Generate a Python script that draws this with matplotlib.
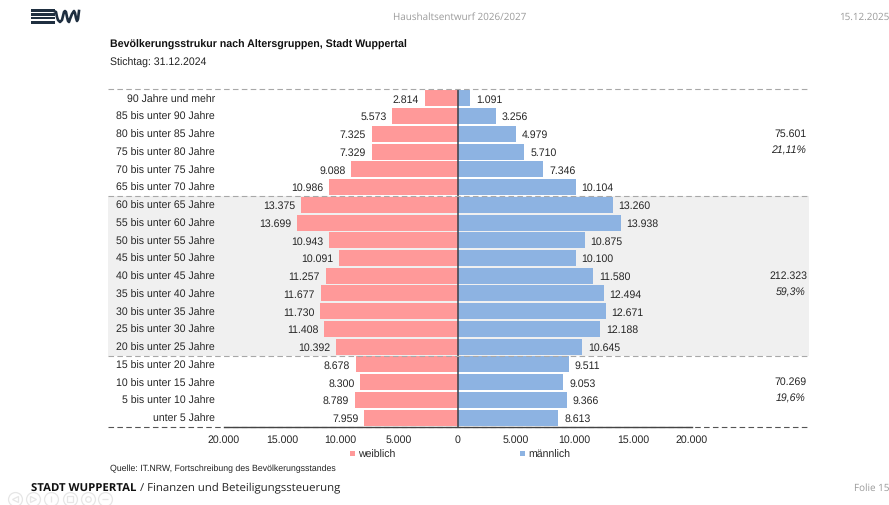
import matplotlib.pyplot as plt
import numpy as np
from matplotlib.patches import Rectangle

plt.rcParams['font.family'] = ['Liberation Sans', 'DejaVu Sans']
plt.rcParams['text.hinting'] = 'no_hinting'

W, H = 889, 505

# chart data, top row first
groups = ['90 Jahre und mehr', '85 bis unter 90 Jahre', '80 bis unter 85 Jahre', '75 bis unter 80 Jahre',
          '70 bis unter 75 Jahre', '65 bis unter 70 Jahre', '60 bis unter 65 Jahre', '55 bis unter 60 Jahre',
          '50 bis unter 55 Jahre', '45 bis unter 50 Jahre', '40 bis unter 45 Jahre', '35 bis unter 40 Jahre',
          '30 bis unter 35 Jahre', '25 bis unter 30 Jahre', '20 bis unter 25 Jahre', '15 bis unter 20 Jahre',
          '10 bis unter 15 Jahre', '5 bis unter 10 Jahre', 'unter 5 Jahre']
female = [2814, 5573, 7325, 7329, 9088, 10986, 13375, 13699, 10943, 10091, 11257, 11677, 11730, 11408, 10392,
          8678, 8300, 8789, 7959]
male = [1091, 3256, 4979, 5710, 7346, 10104, 13260, 13938, 10875, 10100, 11580, 12494, 12671, 12188, 10645,
        9511, 9053, 9366, 8613]
ticks = [-20000, -15000, -10000, -5000, 0, 5000, 10000, 15000, 20000]
tick_labels = ['20.000', '15.000', '10.000', '5.000', '0', '5.000', '10.000', '15.000', '20.000']
totals = ['75.601', '212.323', '70.269']
shares = ['21,11%', '59,3%', '19,6%']


def num(v):
    return f'{v:,}'.replace(',', '.')


def px(x, y):
    # picture pixels to figure coordinates
    return x / W, 1 - y / H


fig = plt.figure(figsize=(W / 100, H / 100), dpi=100, facecolor='white')

left, right, top, bottom = 108, 809, 89.5, 426.5
ax = fig.add_axes([left / W, 1 - bottom / H, (right - left) / W, (bottom - top) / H])
scale = 0.0117  # px per person
ax.set_xlim((left - 457.5) / scale, (right - 457.5) / scale)
ax.set_ylim(len(groups) - 0.5, -0.5)

y = np.arange(len(groups))
ax.axhspan(5.5, 14.5, color='#f0f0f0', lw=0, zorder=0)
ax.barh(y, -np.array(female), height=0.9, color='#ff9999', zorder=2)
ax.barh(y, male, height=0.9, color='#8db3e2', zorder=2)
ax.axvline(0, color='#3a4048', lw=1.1, zorder=3)

txt = '#262626'
fs = 7.6
for i in y:
    ax.text(-female[i] - 500, i + 0.08, num(female[i]), ha='right', va='center', fontsize=fs, color=txt)
    ax.text(male[i] + 500, i + 0.08, num(male[i]), ha='left', va='center', fontsize=fs, color=txt)
    ax.text((215 - 457.5) / scale, i + 0.08, groups[i], ha='right', va='center', fontsize=fs, color=txt)

for yy in [-0.5, 5.5, 14.5]:
    ax.axhline(yy, color='#a8a8a8', lw=0.8, ls=(0, (5, 3)), zorder=4, clip_on=False)
ax.axhline(18.5, color='#555555', lw=0.8, ls=(0, (5, 3)), zorder=4, clip_on=False)
ax.plot([-20000, 20000], [18.5, 18.5], color='#444444', lw=1.0, zorder=5, clip_on=False)

ax.set_xticks(ticks)
ax.set_xticklabels(tick_labels, fontsize=fs, color=txt)
ax.set_yticks([])
ax.tick_params(axis='x', length=0, pad=6)
for s in ax.spines.values():
    s.set_visible(False)
ax.patch.set_alpha(0)

# block totals on the right
for yt, ys, a, b in zip([134, 276, 382], [151, 293, 399], totals, shares):
    fig.text(*px(807, yt), a, ha='right', va='center', fontsize=fs, color=txt)
    fig.text(*px(806, ys), b, ha='right', va='center', fontsize=fs, style='italic', color=txt)

# legend
fig.add_artist(Rectangle(px(350, 456), 5 / W, 5 / H, transform=fig.transFigure, color='#ff9999', lw=0))
fig.text(*px(358, 455), 'weiblich', ha='left', va='center', fontsize=fs, color=txt)
fig.add_artist(Rectangle(px(520, 456), 5 / W, 5 / H, transform=fig.transFigure, color='#8db3e2', lw=0))
fig.text(*px(528, 455), 'männlich', ha='left', va='center', fontsize=fs, color=txt)

# titles
fig.text(*px(110, 45), 'Bevölkerungsstrukur nach Altersgruppen, Stadt Wuppertal', ha='left', va='center',
         fontsize=7.65, fontweight='bold', color='#111111')
fig.text(*px(110, 63), 'Stichtag: 31.12.2024', ha='left', va='center', fontsize=7.6, color='#222222')
fig.text(*px(110, 468.5), 'Quelle: IT.NRW, Fortschreibung des Bevölkerungsstandes', ha='left', va='center',
         fontsize=6.3, color='#222222')

# slide frame
gray = '#9a9a9a'
fig.text(*px(460, 17), 'Haushaltsentwurf 2026/2027', ha='center', va='center', fontsize=7.1, color=gray,
         family='Open Sans')
fig.text(*px(889, 17), '15.12.2025', ha='right', va='center', fontsize=7.1, color=gray, family='Open Sans')
fig.text(*px(889, 488), 'Folie 15', ha='right', va='center', fontsize=7.1, color=gray, family='Open Sans')
t = fig.text(*px(31, 489), 'STADT WUPPERTAL', ha='left', va='center', fontsize=8.2, fontweight='bold',
             color='#111111', family='Open Sans')
fig.canvas.draw()
x1 = t.get_window_extent().x1
fig.text(x1 / W + 4 / W, 1 - 489 / H, '/ Finanzen und Beteiligungssteuerung', ha='left', va='center', fontsize=8.2,
         color='#222222', family='Open Sans')

# logo
navy = '#1f2f40'
for yy, hh in [(9.5, 2.5), (13.5, 2.5), (17, 2), (21, 3)]:
    fig.add_artist(Rectangle(px(31, yy + hh), 24 / W, hh / H, transform=fig.transFigure, color=navy, lw=0))
wave = [54, 56, 57, 58, 60, 62, 63, 64, 65, 66, 67, 68, 69, 70, 72, 74, 75, 76, 77, 78, 79]
wave_y = [11, 12, 17, 20, 22, 20, 16, 12, 11, 12, 17, 21, 22, 19, 14, 11, 13, 18, 21, 19, 11]
fig.add_artist(plt.Line2D([v / W for v in wave], [1 - v / H for v in wave_y], color=navy, lw=1.9,
                          transform=fig.transFigure, solid_joinstyle='round'))

# faint presenter buttons
faint = '#e6e6e6'
for cx, glyph in zip([15, 33, 51, 70, 88, 105], ['<', '>', '|', 's', 'o', '_']):
    fig.add_artist(plt.Line2D([cx / W], [1 - 499 / H], marker='o', ms=10, mfc='none', mec=faint, mew=0.9,
                              transform=fig.transFigure))
    fig.add_artist(plt.Line2D([cx / W], [1 - 499 / H], marker=glyph, ms=4, mfc='none', mec=faint, mew=0.9,
                              transform=fig.transFigure))

fig.savefig('out.png', dpi=100)
